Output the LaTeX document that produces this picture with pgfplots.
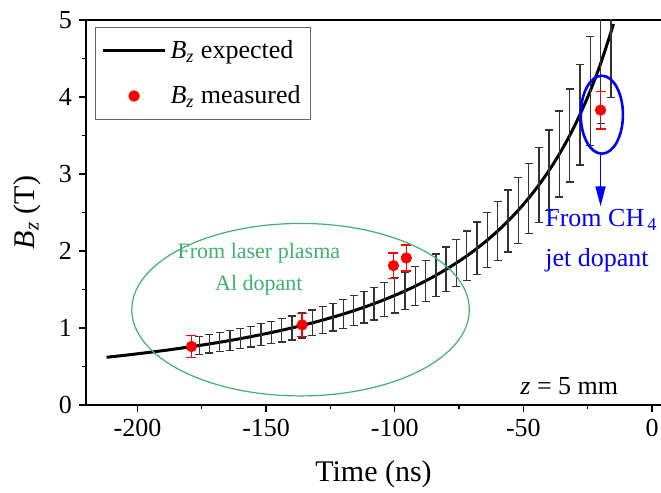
\documentclass[border=0pt]{standalone}
\usepackage{pgfplots}
\pgfplotsset{compat=1.18}
\usepackage{pgfplotstable}
\usepackage{fontspec}
\setmainfont{Liberation Serif}
\usetikzlibrary{arrows.meta}
\definecolor{mygreen}{RGB}{60,178,110}

\pgfplotstableread{
t B
-212 0.620
-208 0.634
-204 0.649
-200 0.665
-196 0.681
-192 0.698
-188 0.715
-184 0.734
-180 0.753
-176 0.773
-172 0.794
-168 0.815
-164 0.838
-160 0.862
-156 0.887
-152 0.914
-148 0.941
-144 0.970
-140 1.001
-136 1.033
-132 1.067
-128 1.103
-124 1.141
-120 1.181
-116 1.224
-112 1.269
-108 1.317
-104 1.369
-100 1.423
-96 1.482
-92 1.544
-88 1.612
-84 1.684
-80 1.762
-76 1.846
-72 1.936
-68 2.035
-64 2.142
-60 2.259
-56 2.388
-52 2.529
-48 2.684
-44 2.856
-40 3.047
-36 3.260
-32 3.500
-28 3.771
-24 4.079
-20 4.431
-16 4.837
-15 4.948
}\curve

\pgfplotstableread{
t B e
-176 0.773 0.116
-172 0.794 0.120
-168 0.815 0.123
-164 0.838 0.127
-160 0.862 0.131
-156 0.887 0.136
-152 0.914 0.141
-148 0.941 0.145
-144 0.970 0.150
-140 1.001 0.156
-136 1.033 0.161
-132 1.067 0.167
-128 1.103 0.174
-124 1.141 0.180
-120 1.181 0.188
-116 1.224 0.195
-112 1.269 0.203
-108 1.317 0.212
-104 1.369 0.221
-100 1.423 0.230
-96 1.482 0.241
-92 1.544 0.252
-88 1.612 0.264
-84 1.684 0.277
-80 1.762 0.291
-76 1.846 0.306
-72 1.936 0.322
-68 2.035 0.340
-64 2.142 0.359
-60 2.259 0.380
-56 2.388 0.403
-52 2.529 0.428
-48 2.684 0.456
-44 2.856 0.487
-40 3.047 0.522
-36 3.260 0.560
-32 3.500 0.604
-28 3.771 0.653
-24 4.079 0.709
-20 4.431 0.773
-16 4.837 0.846
}\bars

\pgfplotstableread{
t B e
-179 0.76 0.14
-136 1.04 0.15
-100.5 1.81 0.165
-95.5 1.91 0.17
-20 3.83 0.245
}\meas

\begin{document}
\begin{tikzpicture}
\begin{axis}[
  name=ax,
  scale only axis, width=287.5pt, height=192.5pt,
  xmin=-220, xmax=3.5, ymin=0, ymax=5,
  axis x line*=box, axis y line*=left,
  xtick={-200,-150,-100,-50,0}, ytick={0,1,2,3,4,5},
  minor x tick num=1, minor y tick num=1,
  xtick pos=left, ytick pos=left,
  tick align=outside,
  major tick length=3.5pt, minor tick length=2pt,
  every tick/.style={black, line width=0.6pt},
  axis line style={line width=0.7pt},
  /pgf/number format/assume math mode=true,
  tick label style={font=\fontsize{13pt}{15pt}\selectfont},
  xlabel={Time (ns)},
  ylabel={\textit{B}\textsubscript{\textit{z}} (T)},
  label style={font=\fontsize{15pt}{18pt}\selectfont},
  xlabel style={at={(rel axis cs:0.5,0)}, anchor=base, yshift=-38.3pt},
  ylabel style={at={([xshift=-29.5pt]rel axis cs:0,0.5)}, anchor=center},
  legend style={at={(0.0157,0.982)}, anchor=north west, draw=black!60, line width=0.5pt,
    font=\fontsize{13pt}{15.6pt}\selectfont, row sep=8pt, inner xsep=3pt, inner ysep=4.5pt,
    cells={anchor=west}},
  legend image code/.code={\draw[mark repeat=2,mark phase=2,#1] plot coordinates {(0pt,0pt) (15.5pt,0pt) (31pt,0pt)};},
]
\addplot[black, line width=1.5pt, smooth, no marks] table[x=t, y=B] {\curve};
\addlegendentry{\textit{B}\textsubscript{\textit{z}} expected}

\addplot[black!80, forget plot, draw=none, no markers,
  error bars/.cd, y dir=both, y explicit, error mark=-,
  error bar style={draw=black!80, line width=0.7pt},
  error mark options={rotate=90, draw=black!80, line width=0.7pt, mark size=2pt}]
  table[x=t, y=B, y error=e] {\bars};

\addplot[red, only marks, mark=*, mark size=2.6pt, mark options={fill=red, draw=red},
  error bars/.cd, y dir=both, y explicit, error mark=-,
  error bar style={draw=red, line width=0.7pt},
  error mark options={rotate=90, draw=red, line width=0.7pt, mark size=2.5pt}]
  table[x=t, y=B, y error=e] {\meas};
\addlegendentry{\textit{B}\textsubscript{\textit{z}} measured}

\draw[mygreen, line width=0.6pt] (axis cs:-136.6,1.238) ellipse [x radius=65.6, y radius=1.12];
\node[mygreen, font=\fontsize{11pt}{16pt}\selectfont, align=center] at (axis cs:-152.8,1.77) {From laser plasma\\Al dopant};

\draw[blue, line width=1.3pt] (axis cs:-19.5,3.77) ellipse [x radius=8.2, y radius=0.506];
\draw[blue, line width=0.7pt, -{Triangle[length=10pt,width=5pt]}] (axis cs:-20,3.264) -- (axis cs:-20,2.58);
\node[blue, font=\fontsize{13pt}{20pt}\selectfont, align=left, anchor=west, inner sep=0pt] at (axis cs:-41.6,2.13) {From CH\textsubscript{\,4}\\jet dopant};

\node[anchor=base west, inner sep=0pt, font=\fontsize{13pt}{15pt}\selectfont] at (axis cs:-51.3,0.13) {\textit{z} = 5 mm};
\end{axis}
\pgfresetboundingbox
\path[use as bounding box] ([xshift=-43pt,yshift=-43.5pt]ax.south west) rectangle ([yshift=10pt]ax.north east);
\end{tikzpicture}
\end{document}
